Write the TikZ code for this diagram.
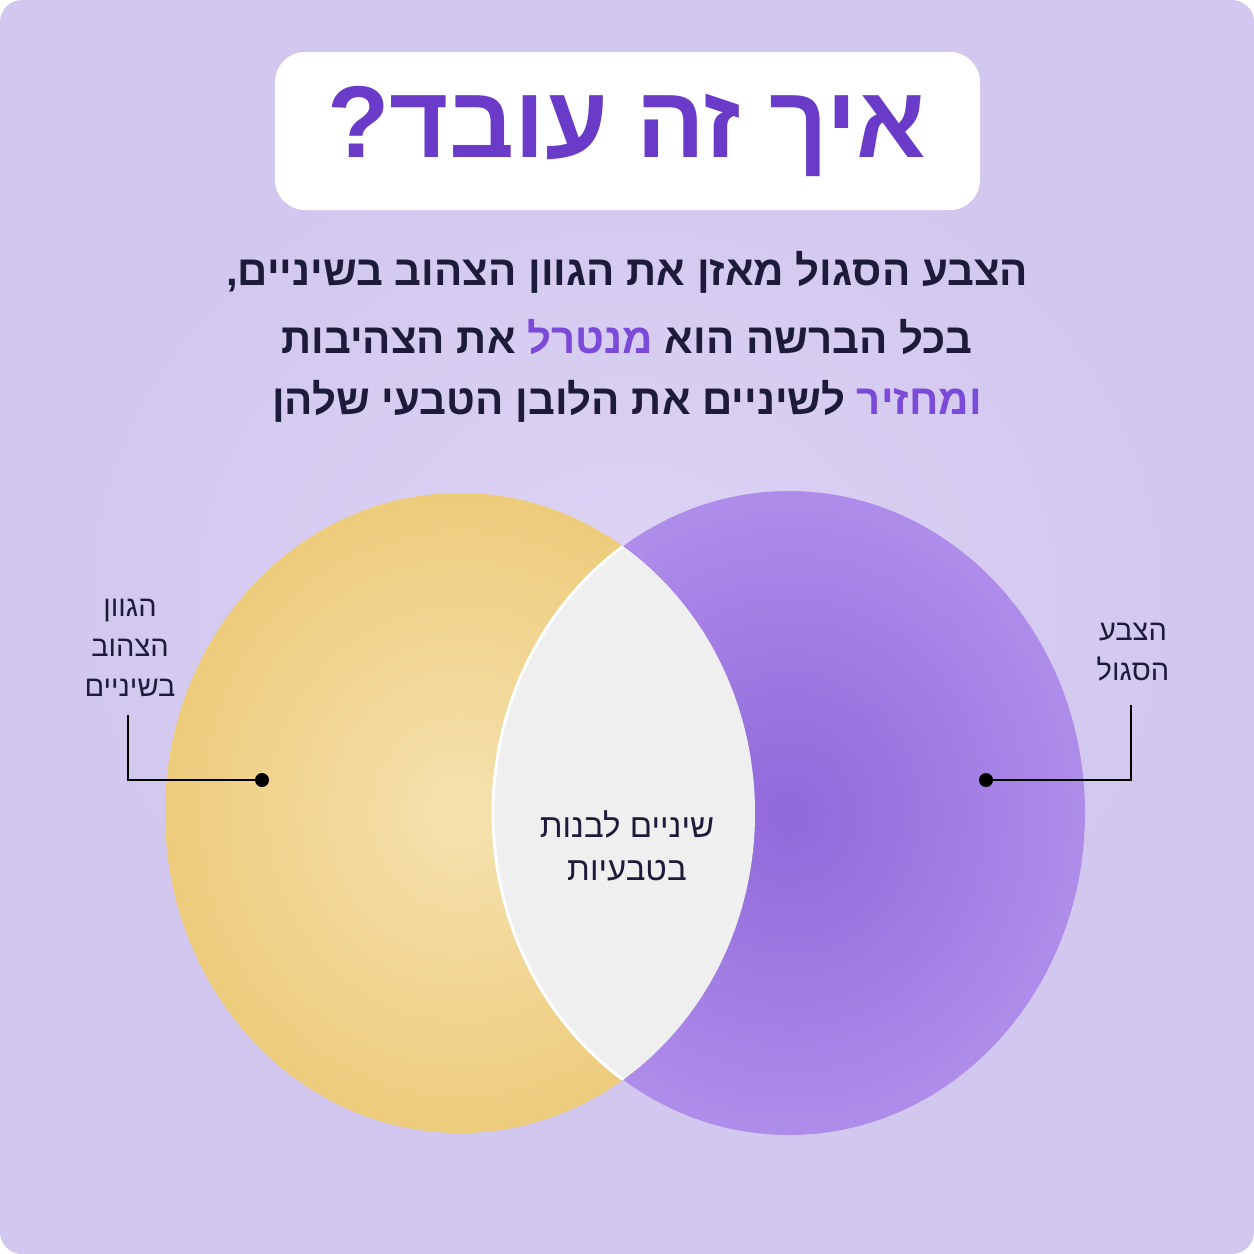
\documentclass[tikz,border=0pt]{standalone}
\usepackage{fontspec}
\newfontfamily\hebfont[Script=Hebrew]{Liberation Sans}
\TeXXeTstate=1
\usepackage{xcolor}
\definecolor{bgLav}{HTML}{D2C7EE}
\definecolor{bgLight}{HTML}{DDD3F4}
\definecolor{titlePurple}{HTML}{6A3BC9}
\definecolor{inkNavy}{HTML}{1E1B3A}
\definecolor{accPurple}{HTML}{7A4AD8}
\definecolor{sunYellow}{HTML}{EDCC7C}
\definecolor{sunLight}{HTML}{F6E2B0}
\definecolor{violetDisc}{HTML}{9168DA}
\definecolor{violetLight}{HTML}{AE8DEA}
\definecolor{lensGray}{HTML}{EFEFEF}

\begin{document}
\begin{tikzpicture}[x=1pt, y=-1pt,
  subline/.style={font=\hebfont\bfseries\fontsize{42}{48}\selectfont, text=inkNavy},
  sidelabel/.style={font=\hebfont\fontsize{29}{40}\selectfont, text=inkNavy, align=center},
  leader/.style={draw=black, line width=1.6pt},
  dotmark/.style={circle, fill=black, inner sep=0pt, minimum size=14pt}]
\useasboundingbox (0,0) rectangle (1254,1254);
\fill[white] (0,0) rectangle (1254,1254);
\fill[bgLav, rounded corners=22pt] (0,0) rectangle (1254,1254);
\shade[inner color=bgLight, outer color=bgLav] (627,600) ellipse (560 and 480);
% title
\fill[white, rounded corners=30pt] (275,52) rectangle (980,210);
\node (title) at (627,131) {\hebfont\bfseries\fontsize{102}{110}\selectfont\color{titlePurple}\beginR איך זה עובד?\endR};
% subtitle
\node[subline] (sub1) at (627,272) {\beginR הצבע הסגול מאזן את הגוון הצהוב בשיניים,\endR};
\node[subline] (sub2) at (627,337) {\beginR את הצהיבות\endR\ {\color{accPurple}\beginR מנטרל\endR}\ \beginR בכל הברשה הוא\endR};
\node[subline] (sub3) at (627,401) {\beginR לשיניים את הלובן הטבעי שלהן\endR\ {\color{accPurple}\beginR ומחזיר\endR}};
% circles
\shade[inner color=sunLight, outer color=sunYellow] (460,813) ellipse (295 and 320);
\shade[inner color=violetDisc, outer color=violetLight] (789,813) ellipse (296 and 322);
\begin{scope}
  \clip (460,813) ellipse (295 and 320);
  \fill[lensGray, draw=white, line width=3pt] (789,813) ellipse (296 and 322);
\end{scope}
\node[sidelabel, font=\hebfont\fontsize{33}{43}\selectfont] (mid) at (627,846) {\beginR שיניים לבנות\endR\\\beginR בטבעיות\endR};
% labels and leaders
\node[sidelabel] (yelLbl) at (130,648) {\beginR הגוון\endR\\\beginR הצהוב\endR\\\beginR בשיניים\endR};
\node[sidelabel] (vioLbl) at (1133,652) {\beginR הצבע\endR\\\beginR הסגול\endR};
\node[dotmark] (yelDot) at (262,780) {};
\node[dotmark] (vioDot) at (986,780) {};
\coordinate (yelTop) at (128,715);
\coordinate (vioTop) at (1131,705);
\draw[leader] (yelTop) |- (yelDot);
\draw[leader] (vioTop) |- (vioDot);
\end{tikzpicture}
\end{document}
